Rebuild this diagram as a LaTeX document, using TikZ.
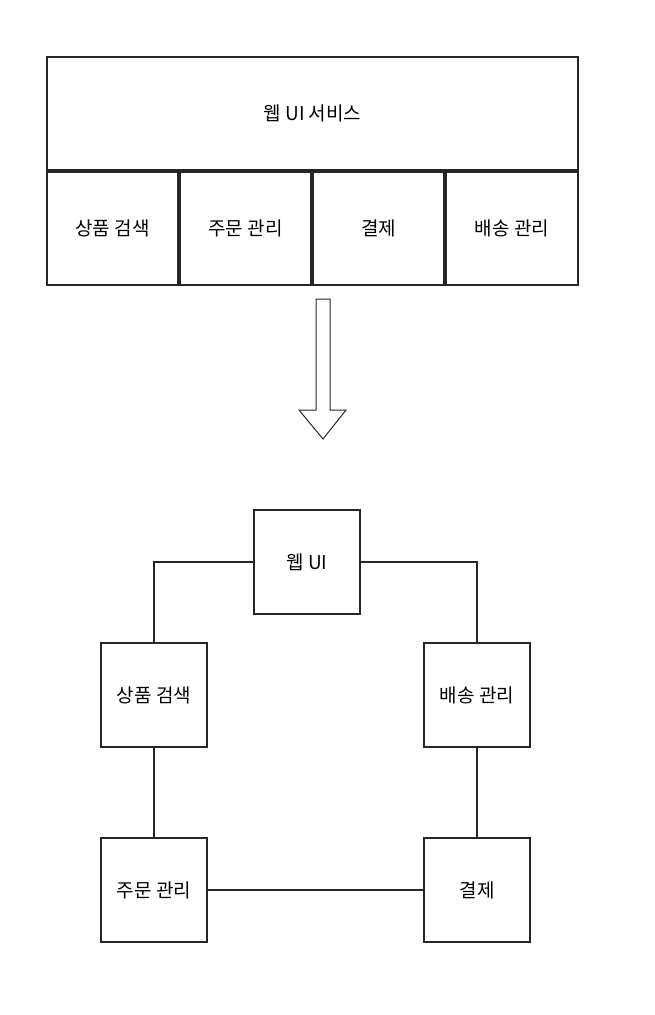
\documentclass[tikz,border=0pt]{standalone}
\usepackage{fontspec}
\setmainfont{Noto Sans CJK KR}
\begin{document}
\begin{tikzpicture}[x=1pt,y=-1pt,
  box/.style={draw=black!85,line width=1.2pt,minimum width=#1,inner sep=0pt,font=\fontsize{19}{22}\selectfont},
  sq/.style={draw=black!85,line width=1.2pt,minimum width=106pt,minimum height=104pt,inner sep=0pt,font=\fontsize{19}{22}\selectfont},
  link/.style={draw=black!85,line width=1.2pt}]
\useasboundingbox (0,0) rectangle (655,1015);
% top
\node[box=531pt,minimum height=113pt] (web) at (312.5,113.5) {웹 UI 서비스};
\node[box=131pt,minimum height=113pt] (c1) at (112.5,228.5) {상품 검색};
\node[box=131pt,minimum height=113pt] (c2) at (245.5,228.5) {주문 관리};
\node[box=131pt,minimum height=113pt] (c3) at (378.5,228.5) {결제};
\node[box=132pt,minimum height=113pt] (c4) at (512,228.5) {배송 관리};
% arrow
\draw[link,line width=1pt,line join=miter] (316,299) -- (330,299) -- (330,410) -- (346,410) -- (323,439) -- (299,410) -- (316,410) -- cycle;
% bottom
\node[sq] (w) at (307,562) {웹 UI};
\node[sq] (s) at (154,695) {상품 검색};
\node[sq] (d) at (477,695) {배송 관리};
\node[sq] (o) at (154,890) {주문 관리};
\node[sq] (p) at (477,890) {결제};
\draw[link] (w.west) -| (s.north);
\draw[link] (w.east) -| (d.north);
\draw[link] (s.south) -- (o.north);
\draw[link] (d.south) -- (p.north);
\draw[link] (o.east) -- (p.west);
\end{tikzpicture}
\end{document}
